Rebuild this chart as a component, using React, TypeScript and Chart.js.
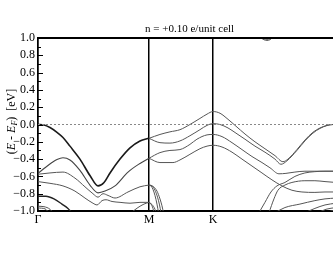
import React, { useEffect, useRef } from "react";
import { Chart, registerables } from "chart.js";
Chart.register(...registerables);

const TITLE = "n = +0.10 e/unit cell";
const K_LABELS = ["Γ", "M", "K"];
const K_POS = [0, 1, 1.5774];
const GAMMA_END = 2.732;
const X_MAX = 2.658;
const Y_MIN = -1;
const Y_MAX = 1;

// band data: k-path distance (Γ-M = 1) and energy (eV)
const A_k = [0, 0.054, 0.108, 0.171, 0.225, 0.288, 0.378, 0.468, 0.541, 0.595, 0.649, 0.739, 0.829, 0.919, 1.0];
const A_E = [0, -0.005, -0.035, -0.09, -0.15, -0.25, -0.40, -0.59, -0.71, -0.67, -0.56, -0.40, -0.27, -0.19, -0.16];
const AU_k = [1.0, 1.099, 1.189, 1.279, 1.369, 1.459, 1.523, 1.577, 1.640, 1.712, 1.784, 1.865, 1.955, 2.045, 2.135, 2.207, 2.252, 2.333, 2.405, 2.477, 2.541, 2.604, 2.658, 2.732];
const AU_E = [-0.16, -0.115, -0.085, -0.06, 0.0, 0.07, 0.12, 0.15, 0.13, 0.06, -0.02, -0.11, -0.20, -0.28, -0.36, -0.43, -0.40, -0.29, -0.18, -0.09, -0.04, -0.01, 0, 0];
const AL_k = [1.0, 1.099, 1.189, 1.279, 1.369, 1.459, 1.523, 1.577, 1.640, 1.712, 1.784, 1.865, 1.955, 2.045, 2.135, 2.189, 2.243, 2.333, 2.405, 2.477, 2.541, 2.604, 2.658, 2.732];
const AL_E = [-0.16, -0.21, -0.215, -0.19, -0.13, -0.06, -0.01, 0.01, 0.0, -0.04, -0.10, -0.17, -0.25, -0.32, -0.40, -0.46, -0.42, -0.30, -0.19, -0.10, -0.045, -0.012, 0, 0];
const B_k = [0, 0.063, 0.126, 0.171, 0.225, 0.288, 0.378, 0.468, 0.541, 0.604, 0.694, 0.811, 0.919, 1.0];
const B_E = [-0.565, -0.50, -0.44, -0.405, -0.385, -0.41, -0.53, -0.70, -0.79, -0.77, -0.71, -0.55, -0.45, -0.39];
const BU_k = [1.0, 1.099, 1.189, 1.279, 1.369, 1.432, 1.523, 1.577, 1.658, 1.748, 1.838, 1.928, 2.018, 2.090, 2.171, 2.234, 2.315, 2.405, 2.495, 2.586, 2.685];
const BU_E = [-0.39, -0.325, -0.30, -0.29, -0.23, -0.17, -0.12, -0.115, -0.14, -0.21, -0.29, -0.37, -0.44, -0.50, -0.57, -0.565, -0.55, -0.54, -0.54, -0.54, -0.54];
const BL_k = [1.0, 1.099, 1.216, 1.279, 1.369, 1.459, 1.523, 1.577, 1.658, 1.748, 1.838, 1.928, 2.018, 2.108, 2.198, 2.288, 2.378, 2.495, 2.586, 2.685];
const BL_E = [-0.39, -0.44, -0.44, -0.41, -0.345, -0.28, -0.25, -0.24, -0.26, -0.32, -0.40, -0.48, -0.56, -0.64, -0.71, -0.76, -0.78, -0.785, -0.78, -0.78];
const C_k = [0, 0.108, 0.225, 0.333, 0.423, 0.495, 0.541, 0.586, 0.631, 0.694, 0.811, 0.919, 1.0];
const C_E = [-0.575, -0.56, -0.55, -0.62, -0.72, -0.80, -0.84, -0.80, -0.82, -0.85, -0.78, -0.72, -0.70];
const D_k = [0, 0.108, 0.225, 0.333, 0.423, 0.495, 0.532, 0.577, 0.613, 0.667, 0.739, 0.829, 0.919, 1.0];
const D_E = [-0.66, -0.68, -0.71, -0.77, -0.85, -0.91, -0.93, -0.88, -0.87, -0.89, -0.90, -0.91, -0.90, -0.90];
const E_k = [0, 0.072, 0.144, 0.216, 0.270, 0.306];
const E_E = [-0.83, -0.83, -0.86, -0.92, -0.97, -1.02];
const G1_k = [0, 0.054, 0.108, 0.135];
const G1_E = [-0.945, -0.95, -0.98, -1.02];
const G2_k = [0, 0.063, 0.099];
const G2_E = [-0.965, -0.975, -1.02];
const F_k = [0.838, 0.901, 0.955, 1.0];
const F_E = [-1.02, -0.96, -0.92, -0.90];
const MA1_k = [1.0, 1.018, 1.036, 1.054, 1.072, 1.086];
const MA1_E = [-0.70, -0.71, -0.75, -0.82, -0.92, -1.02];
const MA2_k = [1.0, 1.027, 1.054, 1.077, 1.095, 1.108];
const MA2_E = [-0.70, -0.71, -0.76, -0.84, -0.93, -1.02];
const MA3_k = [1.0, 1.036, 1.072, 1.099, 1.117, 1.131];
const MA3_E = [-0.70, -0.715, -0.77, -0.86, -0.94, -1.02];
const MB1_k = [1.0, 1.018, 1.036, 1.045];
const MB1_E = [-0.90, -0.92, -0.97, -1.02];
const MB2_k = [1.0, 1.027, 1.054, 1.063];
const MB2_E = [-0.90, -0.925, -0.98, -1.02];
const R1_k = [1.991, 2.045, 2.099, 2.153, 2.225, 2.315, 2.405, 2.495, 2.586, 2.685];
const R1_E = [-1.02, -0.90, -0.78, -0.71, -0.67, -0.60, -0.56, -0.545, -0.54, -0.54];
const R2_k = [2.081, 2.126, 2.162, 2.225, 2.288, 2.405, 2.495, 2.586, 2.685];
const R2_E = [-1.02, -0.86, -0.76, -0.70, -0.67, -0.65, -0.65, -0.66, -0.67];
const LB1_k = [2.135, 2.225, 2.360, 2.495, 2.586, 2.685];
const LB1_E = [-1.02, -0.96, -0.92, -0.88, -0.86, -0.85];
const LB2_k = [2.405, 2.495, 2.586, 2.685];
const LB2_E = [-1.02, -0.97, -0.93, -0.91];
const LB3_k = [2.523, 2.595, 2.685];
const LB3_E = [-1.02, -0.98, -0.96];
const LB4_k = [2.595, 2.640, 2.685];
const LB4_E = [-1.02, -1.0, -0.99];
const T1_k = [2.0, 2.036, 2.063, 2.090, 2.117];
const T1_E = [1.01, 0.98, 0.972, 0.98, 1.01];
const T2_k = [2.009, 2.040, 2.063, 2.086, 2.108];
const T2_E = [1.01, 0.99, 0.985, 0.99, 1.01];
const ZERO_k = [0, GAMMA_END];
const ZERO_E = [0, 0];

const SERIF = '"Liberation Serif", "Times New Roman", serif';
const W = 333;
const H = 258;

function pts(k: number[], e: number[]) {
  return k.map((v, i) => ({ x: v, y: e[i] }));
}

function band(k: number[], e: number[], color = "#555", width = 1) {
  return {
    data: pts(k, e),
    borderColor: color,
    borderWidth: width,
    pointRadius: 0,
    pointHoverRadius: 0,
    pointHitRadius: 0,
    pointBorderWidth: 0,
    cubicInterpolationMode: "monotone" as const,
    fill: false,
  };
}

const framePlugin = {
  id: "frame",
  afterDraw(chart: any) {
    const { ctx, chartArea: a, scales } = chart;
    const x = scales.x;
    const y = scales.y;
    ctx.save();
    ctx.strokeStyle = "#000";
    ctx.lineWidth = 2;
    ctx.beginPath();
    ctx.moveTo(a.left, a.top);
    ctx.lineTo(a.right, a.top);
    ctx.stroke();
    ctx.lineWidth = 1;
    for (let i = -10; i <= 10; i++) {
      const py = Math.round(y.getPixelForValue(i / 10)) + 0.5;
      const len = i % 2 === 0 ? 5 : 3;
      ctx.beginPath();
      ctx.moveTo(a.left, py);
      ctx.lineTo(a.left + len, py);
      ctx.stroke();
    }
    // title
    ctx.fillStyle = "#000";
    ctx.font = `11px ${SERIF}`;
    ctx.textAlign = "center";
    ctx.textBaseline = "middle";
    ctx.fillText(TITLE, x.getPixelForValue(GAMMA_END / 2), 29);
    // y axis title
    const pieces = [
      { t: "(", f: `12px ${SERIF}`, dy: 0 },
      { t: "E", f: `italic 12px ${SERIF}`, dy: 0 },
      { t: " - ", f: `12px ${SERIF}`, dy: 0 },
      { t: "E", f: `italic 12px ${SERIF}`, dy: 0 },
      { t: "F", f: `italic 8px ${SERIF}`, dy: 3 },
      { t: ")", f: `12px ${SERIF}`, dy: 0 },
      { t: "  [eV]", f: `12px ${SERIF}`, dy: 0 },
    ];
    let total = 0;
    const widths = pieces.map((p) => {
      ctx.font = p.f;
      const w = ctx.measureText(p.t).width;
      total += w;
      return w;
    });
    ctx.translate(12, 121.5);
    ctx.rotate(-Math.PI / 2);
    ctx.textAlign = "left";
    ctx.textBaseline = "middle";
    let cx = -total / 2;
    pieces.forEach((p, i) => {
      ctx.font = p.f;
      ctx.fillText(p.t, cx, p.dy);
      cx += widths[i];
    });
    ctx.restore();
  },
};

export default function App() {
  const ref = useRef<HTMLCanvasElement | null>(null);
  useEffect(() => {
    if (!ref.current) return;
    const zero = {
      data: pts(ZERO_k, ZERO_E),
      borderColor: "#888",
      borderWidth: 1,
      borderDash: [2, 2],
      pointRadius: 0,
      pointHoverRadius: 0,
      pointHitRadius: 0,
      fill: false,
    };
    const chart = new Chart(ref.current, {
      type: "line",
      data: {
        datasets: [
          zero,
          band(A_k, A_E, "#1a1a1a", 1.6),
          band(AU_k, AU_E),
          band(AL_k, AL_E),
          band(B_k, B_E, "#444", 1.1),
          band(BU_k, BU_E),
          band(BL_k, BL_E),
          band(C_k, C_E),
          band(D_k, D_E),
          band(E_k, E_E, "#222", 1.4),
          band(G1_k, G1_E),
          band(G2_k, G2_E),
          band(F_k, F_E),
          band(MA1_k, MA1_E),
          band(MA2_k, MA2_E),
          band(MA3_k, MA3_E),
          band(MB1_k, MB1_E),
          band(MB2_k, MB2_E),
          band(R1_k, R1_E),
          band(R2_k, R2_E),
          band(LB1_k, LB1_E),
          band(LB2_k, LB2_E),
          band(LB3_k, LB3_E),
          band(LB4_k, LB4_E),
          band(T1_k, T1_E),
          band(T2_k, T2_E),
        ] as any,
      },
      options: {
        animation: false,
        responsive: false,
        maintainAspectRatio: false,
        parsing: false,
        events: [],
        layout: { autoPadding: false, padding: { top: 38, right: 0, left: 0, bottom: 0 } },
        plugins: {
          legend: { display: false },
          title: { display: false },
          tooltip: { enabled: false },
        },
        scales: {
          x: {
            type: "linear",
            min: 0,
            max: X_MAX,
            afterBuildTicks: (s: any) => {
              s.ticks = K_POS.map((v) => ({ value: v }));
            },
            afterFit: (s: any) => {
              s.height = 47;
              s.paddingRight = 0;
              s.paddingLeft = 0;
            },
            ticks: {
              autoSkip: false,
              maxRotation: 0,
              padding: 2,
              color: "#000",
              font: { family: SERIF, size: 12 },
              callback: (_v: any, i: number) => K_LABELS[i] ?? "",
            },
            grid: {
              drawOnChartArea: true,
              drawTicks: false,
              color: "#000",
              lineWidth: 1.5,
            },
            border: { display: true, color: "#000", width: 2 },
          },
          y: {
            type: "linear",
            min: Y_MIN,
            max: Y_MAX,
            afterFit: (s: any) => {
              s.width = 38;
              s.paddingTop = 0;
              s.paddingBottom = 0;
            },
            ticks: {
              stepSize: 0.2,
              autoSkip: false,
              padding: 3,
              color: "#000",
              font: { family: SERIF, size: 12 },
              callback: (v: any) => {
                const r = Math.round(Number(v) * 10) / 10;
                const s = Math.abs(r).toFixed(1);
                return r < 0 ? "\u2212" + s : s;
              },
            },
            grid: { drawOnChartArea: false, drawTicks: false },
            border: { display: true, color: "#000", width: 1.5 },
          },
        },
      } as any,
      plugins: [framePlugin],
    });
    return () => chart.destroy();
  }, []);
  return (
    <canvas
      ref={ref}
      width={W}
      height={H}
      style={{ position: "fixed", left: 0, top: 0, display: "block", width: W, height: H }}
    />
  );
}
